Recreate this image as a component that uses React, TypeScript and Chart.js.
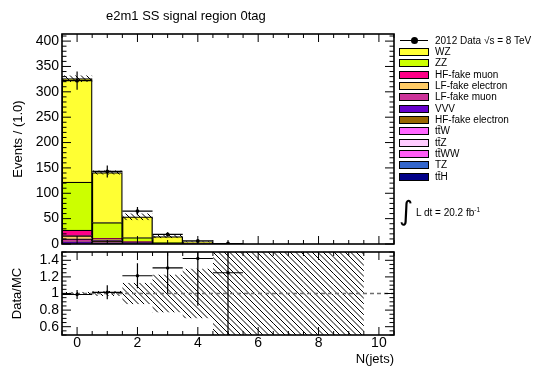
import React, { useEffect, useRef } from 'react';
import { Chart, registerables } from 'chart.js';

Chart.register(...registerables);

// Jet multiplicity bins
const bins = [0, 1, 2, 3, 4, 5, 6, 7, 8, 9, 10];

// Observed events and their uncertainties
const dataEvents = [322, 143, 65, 19, 6, 1, 0, 0, 0, 0, 0];
const dataErr = [17.9, 12.0, 8.1, 4.4, 2.4, 1.0, 0, 0, 0, 0, 0];

// Expected backgrounds per bin
const wz = [204, 98.5, 41, 11.3, 2.4, 0.4, 0, 0, 0, 0, 0];
const zz = [94.6, 31.5, 8, 2, 0.8, 0.2, 0, 0, 0, 0, 0];
const hfFakeMuon = [11, 1.5, 0.8, 0.2, 0.1, 0, 0, 0, 0, 0, 0];
const lfFakeElectron = [6, 1.5, 0.6, 0.2, 0.1, 0.05, 0, 0, 0, 0, 0];
const lfFakeMuon = [6, 1.2, 0.5, 0.1, 0.1, 0, 0, 0, 0, 0, 0];
const vvv = [3.2, 1.5, 0.6, 0.2, 0.2, 0.05, 0, 0, 0, 0, 0];
const hfFakeElectron = [0.3, 2.5, 0.5, 0.1, 0.1, 0, 0, 0, 0, 0, 0];
const ttw = [0.3, 1, 0.6, 0.2, 0.2, 0.05, 0, 0, 0, 0, 0];
const ttz = [0.2, 0.5, 0.4, 0.1, 0.1, 0.02, 0, 0, 0, 0, 0];
const ttww = [0.02, 0.05, 0.05, 0.02, 0.02, 0.01, 0, 0, 0, 0, 0];
const tz = [0.2, 0.6, 0.2, 0.05, 0.05, 0.01, 0, 0, 0, 0, 0];
const tth = [0.2, 0.6, 0.3, 0.05, 0.05, 0.01, 0, 0, 0, 0, 0];

// Relative MC uncertainty band (Data/MC panel)
const bandLow = [0.98, 0.97, 0.87, 0.77, 0.7, 0.5, 0.5, 0.5, 0.5, 0.5, NaN];
const bandHigh = [1.02, 1.03, 1.13, 1.23, 1.3, 1.5, 1.5, 1.5, 1.5, 1.5, NaN];

// Axis tick labels
const mainYTicks = [0, 50, 100, 150, 200, 250, 300, 350, 400];
const ratioYTicks = [0.6, 0.8, 1, 1.2, 1.4];
const ratioXTicks = [0, 2, 4, 6, 8, 10];

const TT = 'tt\u0304';

// Legend order = stack order from top to bottom
const samples = [
  { name: 'WZ', values: wz, color: '#ffff33' },
  { name: 'ZZ', values: zz, color: '#ccff00' },
  { name: 'HF-fake muon', values: hfFakeMuon, color: '#ff0088' },
  { name: 'LF-fake electron', values: lfFakeElectron, color: '#ffcc66' },
  { name: 'LF-fake muon', values: lfFakeMuon, color: '#cc3399' },
  { name: 'VVV', values: vvv, color: '#6600cc' },
  { name: 'HF-fake electron', values: hfFakeElectron, color: '#996600' },
  { name: TT + 'W', values: ttw, color: '#ff66ff' },
  { name: TT + 'Z', values: ttz, color: '#ffccff' },
  { name: TT + 'WW', values: ttww, color: '#ff5cf5' },
  { name: 'TZ', values: tz, color: '#3366cc' },
  { name: TT + 'H', values: tth, color: '#000088' },
];

const mcTotal = bins.map((_, i) => samples.reduce((s, p) => s + p.values[i], 0));
const ratio = bins.map((_, i) => (mcTotal[i] > 0 ? dataEvents[i] / mcTotal[i] : NaN));
const ratioErr = bins.map((_, i) => (mcTotal[i] > 0 ? dataErr[i] / mcTotal[i] : NaN));

const FONT = '"Liberation Sans", Arial, Helvetica, sans-serif';

function hatch(ctx: CanvasRenderingContext2D, x0: number, y0: number, x1: number, y1: number, gap: number) {
  ctx.save();
  ctx.beginPath();
  ctx.rect(x0, y0, x1 - x0, y1 - y0);
  ctx.clip();
  ctx.beginPath();
  const cStart = Math.floor((y0 - x1) / gap) * gap;
  for (let c = cStart; c <= y1 - x0 + gap; c += gap) {
    ctx.moveTo(y0 - c, y0);
    ctx.lineTo(y1 - c, y1);
  }
  ctx.strokeStyle = '#000';
  ctx.lineWidth = 1;
  ctx.stroke();
  ctx.restore();
}

function stepValues(min: number, max: number, step: number) {
  const out: number[] = [];
  for (let k = Math.ceil(min / step - 1e-9); k * step <= max + 1e-9; k++) out.push(k * step);
  return out;
}

type FrameCfg = { xMinor: number; xMajor: number; yMinor: number; yMajor: number; xLen: number; yLen: number };

const frameTicks = (cfg: FrameCfg) => ({
  id: 'frameTicks',
  afterDraw(chart: any) {
    const { ctx, chartArea: a, scales } = chart;
    const x = scales.x;
    const y = scales.y;
    ctx.save();
    ctx.strokeStyle = '#000';
    ctx.lineWidth = 1;
    ctx.beginPath();
    const isMaj = (v: number, m: number) => Math.abs(v / m - Math.round(v / m)) < 1e-6;
    for (const v of stepValues(x.min, x.max, cfg.xMinor)) {
      const px = x.getPixelForValue(v);
      const len = isMaj(v, cfg.xMajor) ? cfg.xLen : cfg.xLen / 2;
      ctx.moveTo(px, a.bottom);
      ctx.lineTo(px, a.bottom - len);
      ctx.moveTo(px, a.top);
      ctx.lineTo(px, a.top + len);
    }
    for (const v of stepValues(y.min, y.max, cfg.yMinor)) {
      const py = y.getPixelForValue(v);
      const len = isMaj(v, cfg.yMajor) ? cfg.yLen : cfg.yLen / 2;
      ctx.moveTo(a.left, py);
      ctx.lineTo(a.left + len, py);
      ctx.moveTo(a.right, py);
      ctx.lineTo(a.right - len, py);
    }
    ctx.stroke();
    ctx.lineWidth = 1.6;
    ctx.strokeRect(a.left, a.top, a.right - a.left, a.bottom - a.top);
    ctx.restore();
  },
});

function errorBars(chart: any, values: number[], errs: number[]) {
  const { ctx, chartArea: a, scales } = chart;
  const x = scales.x;
  const y = scales.y;
  ctx.save();
  ctx.beginPath();
  ctx.rect(a.left, a.top, a.right - a.left, a.bottom - a.top);
  ctx.clip();
  ctx.beginPath();
  bins.forEach((b, i) => {
    const v = values[i];
    if (!(v > 0) || !(dataEvents[i] > 0)) return;
    const py = y.getPixelForValue(v);
    ctx.moveTo(x.getPixelForValue(b - 0.5), py);
    ctx.lineTo(x.getPixelForValue(b + 0.5), py);
    const px = x.getPixelForValue(b);
    ctx.moveTo(px, y.getPixelForValue(v - errs[i]));
    ctx.lineTo(px, y.getPixelForValue(v + errs[i]));
  });
  ctx.strokeStyle = '#000';
  ctx.lineWidth = 1.2;
  ctx.stroke();
  ctx.restore();
}

const mainHatch = {
  id: 'mainHatch',
  beforeDatasetDraw(chart: any, args: any) {
    if (args.meta.type !== 'line') return;
    const { ctx, scales } = chart;
    bins.forEach((b, i) => {
      if (!(mcTotal[i] > 0) || isNaN(bandLow[i])) return;
      const x0 = scales.x.getPixelForValue(b - 0.5);
      const x1 = scales.x.getPixelForValue(b + 0.5);
      const yTop = scales.y.getPixelForValue(mcTotal[i] * bandHigh[i]);
      const yBot = scales.y.getPixelForValue(mcTotal[i] * bandLow[i]);
      hatch(ctx, x0, yTop, x1, yBot, 5.5);
    });
  },
  afterDatasetsDraw(chart: any) {
    errorBars(chart, dataEvents, dataErr);
  },
};

const ratioHatch = {
  id: 'ratioHatch',
  beforeDatasetsDraw(chart: any) {
    const { ctx, chartArea: a, scales } = chart;
    ctx.save();
    ctx.beginPath();
    ctx.rect(a.left, a.top, a.right - a.left, a.bottom - a.top);
    ctx.clip();
    bins.forEach((b, i) => {
      if (isNaN(bandLow[i])) return;
      const x0 = scales.x.getPixelForValue(b - 0.5);
      const x1 = scales.x.getPixelForValue(b + 0.5);
      hatch(ctx, x0, scales.y.getPixelForValue(bandHigh[i]), x1, scales.y.getPixelForValue(bandLow[i]), 5.5);
    });
    ctx.restore();
  },
  afterDatasetsDraw(chart: any) {
    errorBars(chart, ratio, ratioErr);
  },
};

const tickFont = { family: FONT, size: 14 };
const titleFont = { family: FONT, size: 13 };

// Fix an axis box size and drop the label overhang padding so the plot frame sits exactly where the layout padding puts it
const fixWidth = (w: number) => (s: any) => {
  s.width = w;
  s.paddingTop = 0;
  s.paddingBottom = 0;
};
const fixHeight = (h: number) => (s: any) => {
  s.height = h;
  s.paddingLeft = 0;
  s.paddingRight = 0;
};

export default function App() {
  const mainRef = useRef<HTMLCanvasElement>(null);
  const ratioRef = useRef<HTMLCanvasElement>(null);

  useEffect(() => {
    const stacked = samples
      .slice()
      .reverse()
      .map((s) => ({
        type: 'bar' as const,
        label: s.name,
        data: bins.map((b, i) => ({ x: b, y: s.values[i] })),
        backgroundColor: s.color,
        borderColor: '#000',
        borderWidth: 1.3,
        barPercentage: 1,
        categoryPercentage: 1,
        stack: 'mc',
        order: 1,
      }));

    const main = new Chart(mainRef.current!, {
      type: 'bar',
      data: {
        datasets: [
          ...stacked,
          {
            type: 'line' as const,
            label: 'data',
            data: bins.filter((_, i) => dataEvents[i] > 0).map((b) => ({ x: b, y: dataEvents[bins.indexOf(b)] })),
            showLine: false,
            pointRadius: 1.9,
            pointBackgroundColor: '#000',
            pointBorderWidth: 0,
            stack: 'data',
            order: 0,
          } as any,
        ],
      },
      options: {
        responsive: false,
        animation: false,
        events: [],
        layout: { padding: { left: 0, top: 34, right: 153, bottom: 4 } },
        plugins: { legend: { display: false }, tooltip: { enabled: false } },
        scales: {
          x: { type: 'linear', min: -0.5, max: 10.5, stacked: true, offset: false, display: false },
          y: {
            min: 0,
            max: 414,
            stacked: true,
            afterFit: fixWidth(62),
            afterBuildTicks: (s: any) => {
              s.ticks = mainYTicks.map((v) => ({ value: v }));
            },
            grid: { display: false, drawTicks: false },
            border: { display: false },
            ticks: { font: tickFont, color: '#000', padding: 3 },
            title: { display: true, text: 'Events / (1.0)', font: titleFont, color: '#000', padding: { top: 11, bottom: 0 } },
          },
        },
      } as any,
      plugins: [mainHatch, frameTicks({ xMinor: 0.5, xMajor: 2, yMinor: 10, yMajor: 50, xLen: 8, yLen: 9 })],
    });

    const ratioChart = new Chart(ratioRef.current!, {
      type: 'line',
      data: {
        datasets: [
          {
            label: 'ratio',
            data: bins.filter((_, i) => dataEvents[i] > 0).map((b) => ({ x: b, y: ratio[bins.indexOf(b)] })),
            showLine: false,
            pointRadius: 1.7,
            pointBackgroundColor: '#000',
            pointBorderWidth: 0,
            order: 0,
          },
          {
            label: 'unity',
            data: [
              { x: -0.5, y: 1 },
              { x: 10.5, y: 1 },
            ],
            borderColor: '#6e6e6e',
            borderWidth: 1.5,
            borderDash: [4, 3],
            pointRadius: 0,
            order: 1,
          },
        ],
      },
      options: {
        responsive: false,
        animation: false,
        events: [],
        layout: { padding: { left: 0, top: 3, right: 153, bottom: 0 } },
        plugins: { legend: { display: false }, tooltip: { enabled: false } },
        scales: {
          x: {
            type: 'linear',
            min: -0.5,
            max: 10.5,
            afterFit: fixHeight(32),
            afterBuildTicks: (s: any) => {
              s.ticks = ratioXTicks.map((v) => ({ value: v }));
            },
            grid: { display: false, drawTicks: false },
            border: { display: false },
            ticks: { font: tickFont, color: '#000', padding: 0, maxRotation: 0 },
            title: { display: true, text: 'N(jets)', align: 'end', font: titleFont, color: '#000', padding: { top: 0, bottom: 0 } },
          },
          y: {
            min: 0.5,
            max: 1.5,
            afterFit: fixWidth(62),
            afterBuildTicks: (s: any) => {
              s.ticks = ratioYTicks.map((v) => ({ value: v }));
            },
            grid: { display: false, drawTicks: false },
            border: { display: false },
            ticks: { font: tickFont, color: '#000', padding: 3, callback: (v: number) => String(Math.round(v * 10) / 10) },
            title: { display: true, text: 'Data/MC', font: titleFont, color: '#000', padding: { top: 10, bottom: 0 } },
          },
        },
      } as any,
      plugins: [ratioHatch, frameTicks({ xMinor: 0.5, xMajor: 2, yMinor: 0.05, yMajor: 0.2, xLen: 8, yLen: 9 })],
    });

    return () => {
      main.destroy();
      ratioChart.destroy();
    };
  }, []);

  const rowY = (k: number) => 40.7 + k * 11.33;

  return (
    <div
      style={{
        position: 'absolute',
        left: 0,
        top: 0,
        width: 547,
        height: 367,
        background: '#fff',
        overflow: 'hidden',
        fontFamily: FONT,
        color: '#000',
      }}
    >
      <canvas ref={mainRef} width={547} height={248} style={{ position: 'absolute', left: 0, top: 0 }} />
      <canvas ref={ratioRef} width={547} height={119} style={{ position: 'absolute', left: 0, top: 248 }} />

      <div style={{ position: 'absolute', left: 106, top: 9, fontSize: 13, lineHeight: '13px', whiteSpace: 'nowrap' }}>
        e2m1 SS signal region 0tag
      </div>

      {/* legend: data entry */}
      <div style={{ position: 'absolute', left: 400, top: rowY(0) - 0.75, width: 28, height: 0, borderTop: '1.5px solid #000' }} />
      <div
        style={{
          position: 'absolute',
          left: 414 - 3.5,
          top: rowY(0) - 3.5,
          width: 7,
          height: 7,
          borderRadius: '50%',
          background: '#000',
        }}
      />
      <div style={{ position: 'absolute', left: 435, top: rowY(0) - 5, fontSize: 10, lineHeight: '10px', whiteSpace: 'nowrap' }}>
        2012 Data {'\u221A'}s = 8 TeV
      </div>

      {samples.map((s, k) => (
        <React.Fragment key={s.name}>
          <div
            style={{
              position: 'absolute',
              left: 399,
              top: rowY(k + 1) - 4,
              width: 30,
              height: 8,
              boxSizing: 'border-box',
              border: '1px solid #000',
              background: s.color,
            }}
          />
          <div
            style={{
              position: 'absolute',
              left: 435,
              top: rowY(k + 1) - 5,
              fontSize: 10,
              lineHeight: '10px',
              whiteSpace: 'nowrap',
            }}
          >
            {s.name}
          </div>
        </React.Fragment>
      ))}

      {/* luminosity */}
      <div style={{ position: 'absolute', left: 399, top: 197, fontSize: 27, lineHeight: '28px', fontFamily: '"DejaVu Sans", sans-serif' }}>
        {'\u222B'}
      </div>
      <div style={{ position: 'absolute', left: 416, top: 207.5, fontSize: 10, lineHeight: '10px', whiteSpace: 'nowrap' }}>
        L dt = 20.2 fb<sup style={{ fontSize: 6.5, verticalAlign: 'top', position: 'relative', top: -3 }}>-1</sup>
      </div>
    </div>
  );
}
